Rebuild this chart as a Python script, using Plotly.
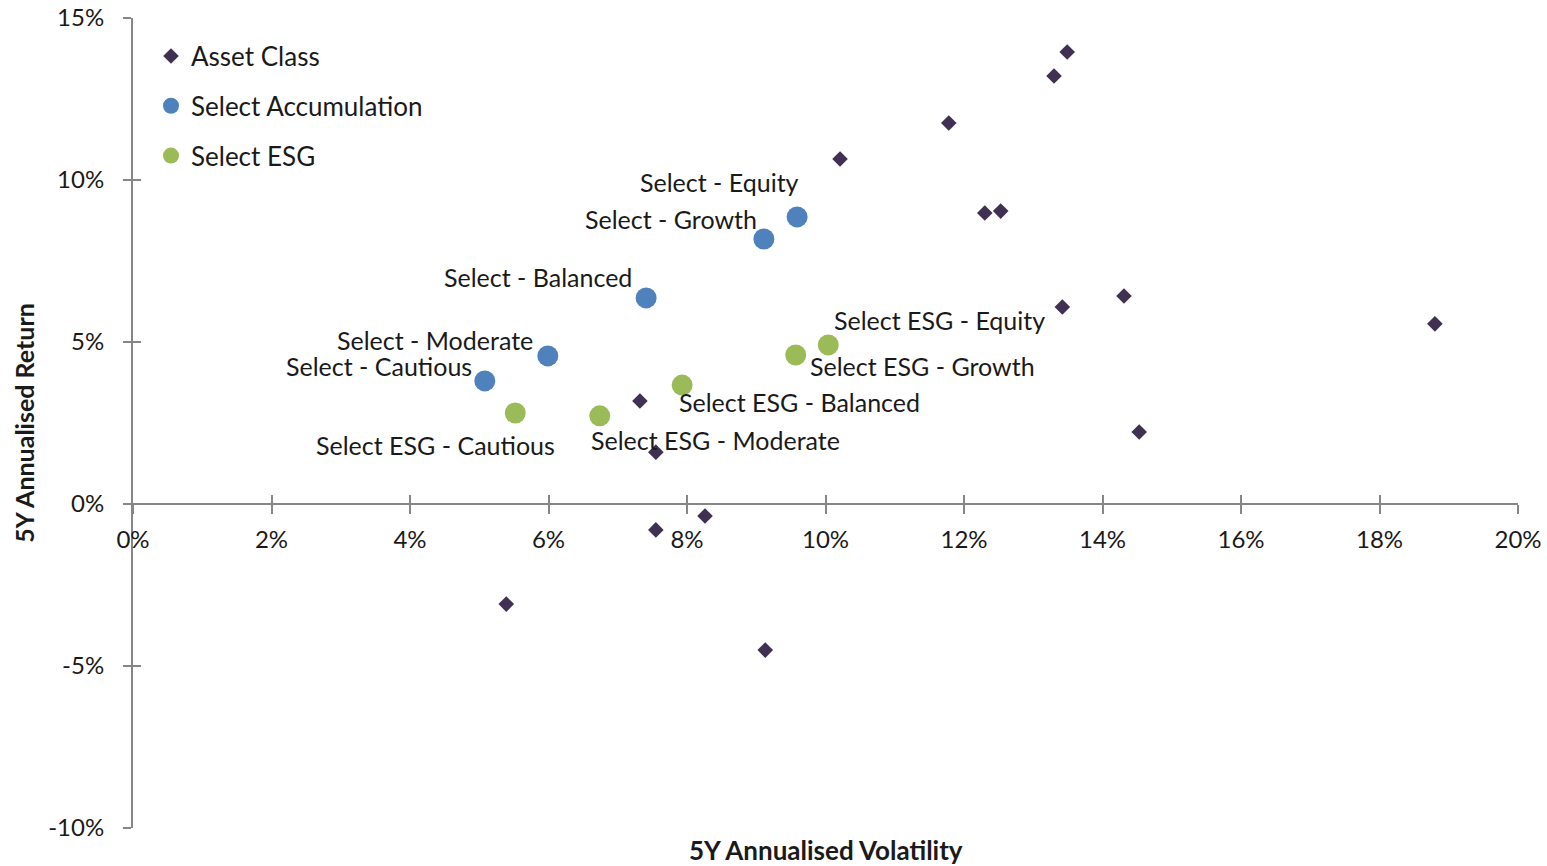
import plotly.graph_objects as go

# ---- data (values in %) ----
asset_vol = [13.49, 13.30, 11.78, 10.21, 12.30, 12.53, 13.42, 14.31, 18.80, 14.53, 7.32, 7.55, 7.55, 8.26, 5.39, 9.13]
asset_ret = [13.95, 13.21, 11.76, 10.65, 8.98, 9.04, 6.08, 6.42, 5.56, 2.22, 3.18, 1.60, -0.80, -0.37, -3.09, -4.51]

acc_names = ["Select - Equity", "Select - Growth", "Select - Balanced", "Select - Moderate", "Select - Cautious"]
acc_vol = [9.59, 9.11, 7.41, 5.99, 5.08]
acc_ret = [8.86, 8.18, 6.36, 4.57, 3.80]

esg_names = ["Select ESG - Equity", "Select ESG - Growth", "Select ESG - Balanced", "Select ESG - Moderate", "Select ESG - Cautious"]
esg_vol = [10.04, 9.57, 7.93, 6.74, 5.52]
esg_ret = [4.91, 4.60, 3.67, 2.72, 2.81]

x_ticks = [0, 2, 4, 6, 8, 10, 12, 14, 16, 18, 20]
y_ticks = [-10, -5, 0, 5, 10, 15]

# label placement (xanchor, xshift px, yshift px)
acc_label_pos = [("center", -78, 35), ("right", -5, 20), ("right", -12, 21), ("right", -13, 16), ("right", -11, 15)]
esg_label_pos = [("left", 4, 25), ("left", 12, -11), ("left", -5, -17), ("left", -11, -24), ("center", -80, -32)]

FONT = "Lato, 'Open Sans', sans-serif"
TXT = "#1a1a1a"
AXC = "#868686"

fig = go.Figure()
fig.add_trace(go.Scatter(x=asset_vol, y=asset_ret, mode="markers", name="Asset Class",
                         legendgroup="a",
                         marker=dict(symbol="diamond", size=12, color="#403152")))
fig.add_trace(go.Scatter(x=acc_vol, y=acc_ret, mode="markers", name="Select Accumulation",
                         legendgroup="b",
                         marker=dict(symbol="circle", size=21, color="#4F81BD")))
fig.add_trace(go.Scatter(x=esg_vol, y=esg_ret, mode="markers", name="Select ESG",
                         legendgroup="c",
                         marker=dict(symbol="circle", size=21, color="#9BBB59")))
# invisible trace to activate overlay axes (for crossing ticks)
fig.add_trace(go.Scatter(x=[None], y=[None], xaxis="x2", yaxis="y2", showlegend=False, hoverinfo="skip"))

annotations = []
for names, xs, ys, pos in [(acc_names, acc_vol, acc_ret, acc_label_pos), (esg_names, esg_vol, esg_ret, esg_label_pos)]:
    for n, xv, yv, (xa, dx, dy) in zip(names, xs, ys, pos):
        annotations.append(dict(x=xv, y=yv, xref="x", yref="y", text=n, showarrow=False,
                                xanchor=xa, yanchor="middle", xshift=dx, yshift=dy,
                                font=dict(family=FONT, size=25, color=TXT)))
annotations.append(dict(x=0.5, y=-0.027, xref="paper", yref="paper", text="<b>5Y Annualised Volatility</b>",
                        showarrow=False, xanchor="center", yanchor="middle",
                        font=dict(family=FONT, size=26, color=TXT)))

axis_common = dict(showgrid=False, zeroline=False, showline=True, linecolor=AXC, linewidth=2,
                   tickcolor=AXC, tickwidth=2, automargin=False, ticklabeloverflow="allow")

fig.update_layout(
    width=1547, height=866,
    margin=dict(l=133, r=29, t=18, b=38),
    paper_bgcolor="white", plot_bgcolor="white",
    font=dict(family=FONT, size=24, color=TXT),
    showlegend=True,
    legend=dict(x=0.013, y=0.982, xanchor="left", yanchor="top", bgcolor="rgba(0,0,0,0)",
                font=dict(family=FONT, size=26, color=TXT), tracegroupgap=13,
                itemsizing="trace"),
    xaxis=dict(range=[0, 20], tickvals=x_ticks, ticktext=[f"{v}%" for v in x_ticks],
               anchor="free", position=0.4, ticks="outside", ticklen=9, ticklabelstandoff=5,
               tickfont=dict(family=FONT, size=24, color=TXT), **axis_common),
    yaxis=dict(range=[-10, 15], tickvals=y_ticks, ticktext=[f"{v}%" for v in y_ticks],
               ticks="outside", ticklen=8, ticklabelstandoff=14,
               tickfont=dict(family=FONT, size=24, color=TXT),
               title=dict(text="<b>5Y Annualised Return</b>", standoff=6,
                          font=dict(family=FONT, size=25, color=TXT)),
               **axis_common),
    xaxis2=dict(range=[0, 20], tickvals=x_ticks, showticklabels=False, overlaying="x",
                anchor="free", position=0.4, ticks="inside", ticklen=9,
                showgrid=False, zeroline=False, showline=False, tickcolor=AXC, tickwidth=2),
    yaxis2=dict(range=[-10, 15], tickvals=y_ticks, showticklabels=False, overlaying="y",
                ticks="inside", ticklen=8,
                showgrid=False, zeroline=False, showline=False, tickcolor=AXC, tickwidth=2),
    annotations=annotations,
)

fig.write_html("out.html", config={"displayModeBar": False},
               post_script="document.body.style.margin='0';")
